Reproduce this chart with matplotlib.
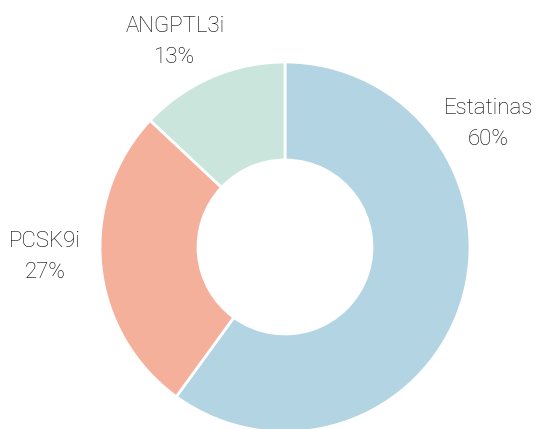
import matplotlib
matplotlib.use("Agg")
import matplotlib.pyplot as plt

# data
labels = ["Estatinas", "PCSK9i", "ANGPTL3i"]
shares = [60, 27, 13]
colors = ["#b3d4e2", "#f4b09b", "#c9e5dc"]

# label anchor points in pixel space (x, y from top)
label_pos = [(488, 124), (45, 257), (175, 42)]

fig = plt.figure(figsize=(5.37, 4.29), dpi=100)
ax = fig.add_axes([0, 0, 1, 1])

cx, cy = 285, 429 - 247
ax.pie(shares, colors=colors, startangle=90, counterclock=False,
       center=(cx, cy), radius=185, frame=True,
       wedgeprops=dict(width=185 - 87, edgecolor="white", linewidth=2))
ax.set_xlim(0, 537)
ax.set_ylim(0, 429)
ax.set_aspect("equal")
ax.axis("off")

for name, val, (x, y) in zip(labels, shares, label_pos):
    ax.text(x, 429 - y, f"{name}\n{val}%", ha="center", va="center",
            fontsize=16, family="Roboto", fontweight="light",
            color="black", linespacing=1.65)

fig.savefig("out.png", dpi=100)
